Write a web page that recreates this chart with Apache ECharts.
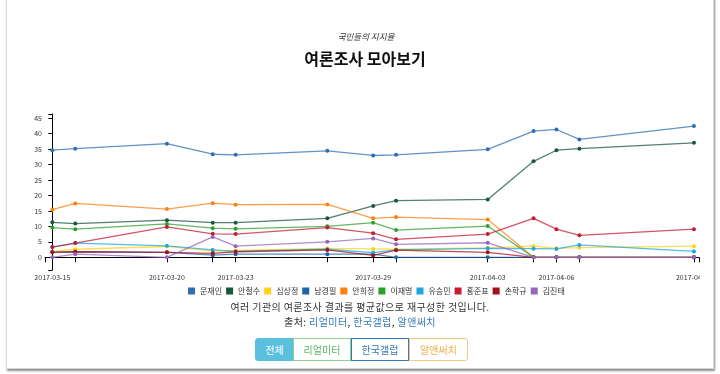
<!DOCTYPE html>
<html>
<head>
<meta charset="utf-8">
<script src="https://cdn.jsdelivr.net/npm/echarts@6/dist/echarts.min.js"></script>
<style>
  html, body { margin:0; padding:0; background:#fff; width:720px; height:374px; overflow:hidden; font-family:"Noto Sans CJK KR","Noto Sans",sans-serif; }
  #frame { position:absolute; left:6px; top:-6px; width:706px; height:373px; border:1px solid #d8d8d8; box-shadow:1px 2px 2px rgba(0,0,0,0.45); background:#fff; }
  #chart { position:absolute; left:0; top:0; width:700px; height:374px; }
  .note { position:absolute; left:0; width:720px; text-align:center; font-size:10px; color:#333; line-height:14px; letter-spacing:0.4px; }
  .note a { color:#337ab7; text-decoration:none; }
  .btn { position:absolute; top:338px; height:21px; line-height:21px; text-align:center; font-size:10px; box-sizing:content-box; border:1px solid; background:#fff; }
</style>
</head>
<body>
<div id="frame"></div>
<div id="chart"></div>
<div class="note" style="top:300px;">여러 기관의 여론조사 결과를 평균값으로 재구성한 것입니다.</div>
<div class="note" style="top:315px;">출처: <a>리얼미터</a>, <a>한국갤럽</a>, <a>알앤써치</a></div>
<div class="btn" style="left:255px;width:37px;background:#5bc0de;border-color:#5bc0de;color:#fff;border-radius:3px 0 0 3px;">전체</div>
<div class="btn" style="left:293px;width:56px;border-color:#8fd18f;color:#5cb85c;">리얼미터</div>
<div class="btn" style="left:351px;width:56px;border-color:#337ab7;color:#337ab7;">한국갤럽</div>
<div class="btn" style="left:409px;width:57px;border-color:#f5c88a;color:#f0ad4e;border-radius:0 3px 3px 0;">알앤써치</div>
<script>
const dates = ['2017-03-15','2017-03-16','2017-03-20','2017-03-22','2017-03-23','2017-03-27','2017-03-29','2017-03-30','2017-04-03','2017-04-05','2017-04-06','2017-04-07','2017-04-12'];
const labelDates = ['2017-03-15','2017-03-20','2017-03-23','2017-03-29','2017-04-03','2017-04-06','2017-04-12'];
const yTicks = [0,5,10,15,20,25,30,35,40,45];

const names = ['문재인','안철수','심상정','남경필','안희정','이재명','유승민','홍준표','손학규','김진태'];
const colors = ['#2f6eb3','#17583a','#ffd21c','#1f64a8','#ff7f0e','#2ca02c','#1ba6df','#c41c34','#a3111f','#9467bd'];

const moon     = [34.6, 35.1, 36.7, 33.3, 33.1, 34.4, 32.9, 33.1, 34.9, 40.8, 41.3, 38.1, 42.4];
const ahnCS    = [11.3, 10.9, 12.0, 11.2, 11.2, 12.6, 16.6, 18.3, 18.7, 31.0, 34.6, 35.1, 37.0];
const sim      = [1.9, 2.6, 3.5, 2.0, 2.2, 2.9, 2.7, 2.6, 3.0, 3.6, 2.9, 3.1, 3.6];
const nam      = [1.7, 1.8, 1.6, 0.7, 1.0, 1.0, 1.0, 0, 0, 0, 0, 0, 0];
const ahnHJ    = [15.4, 17.4, 15.6, 17.5, 17.0, 17.1, 12.6, 13.0, 12.2, 0, 0, 0, 0];
const lee      = [9.6, 9.1, 10.8, 9.4, 9.2, 10.0, 11.2, 8.8, 10.1, 0, 0, 0, 0];
const yoo      = [3.3, 4.6, 3.7, 2.4, 1.9, 2.6, 1.5, 2.4, 2.9, 2.8, 2.7, 4.0, 1.9];
const hong     = [3.3, 4.6, 9.8, 7.6, 7.5, 9.6, 7.8, 5.8, 7.5, 12.6, 9.1, 7.1, 9.1];
const sohn     = [1.6, 1.8, 1.6, 1.3, 1.8, 2.4, 0.6, 2.3, 1.6, 0, 0, 0, 0];
const kim      = [0, 1.0, 0, 6.6, 3.6, 5.0, 6.1, 4.2, 4.7, 0, 0, 0, 0];
const values = [moon, ahnCS, sim, nam, ahnHJ, lee, yoo, hong, sohn, kim];

const DAY = 86400000;
const t0 = Date.UTC(2017, 2, 15);
function dayOf(s){ const p = s.split('-').map(Number); return Math.round((Date.UTC(p[0], p[1]-1, p[2]) - t0) / DAY); }
function fmt(v){ const d = new Date(t0 + Math.round(v)*DAY); const m = d.getUTCMonth()+1, dd = d.getUTCDate(); return d.getUTCFullYear()+'-'+(m<10?'0':'')+m+'-'+(dd<10?'0':'')+dd; }
const xMin = dayOf(dates[0]) - 0.32;
const xMax = dayOf(dates[dates.length-1]) + 0.22;
const yMin = -4.1, yMax = 46.3;

const chart = echarts.init(document.getElementById('chart'), null, {renderer:'canvas'});
const FONT = '"Noto Sans CJK KR","Noto Sans",sans-serif';
chart.setOption({
  animation:false,
  textStyle:{fontFamily:FONT},
  title:[
    {text:'국민들의 지지율', left:361, top:28, textAlign:'center', textStyle:{fontSize:8.5, fontStyle:'italic', fontWeight:'normal', color:'#333', fontFamily:FONT}},
    {text:'여론조사 모아보기', left:360, top:46, textAlign:'center', textStyle:{fontSize:16, fontWeight:'bold', color:'#111', fontFamily:FONT}}
  ],
  legend:{
    data:names, left:183, top:282, icon:'rect', itemWidth:7, itemHeight:7, itemGap:4,
    textStyle:{fontSize:8, color:'#333', fontFamily:FONT}
  },
  grid:{left:45, right:1, top:114, bottom:104, outerBoundsMode:'none', containLabel:false},
  xAxis:{
    type:'value', min:xMin, max:xMax,
    axisLine:{lineStyle:{color:'#000', width:1}},
    axisTick:{show:true, length:5, lineStyle:{color:'#000'}, customValues:[xMin].concat(dates.map(dayOf)).concat([xMax])},
    axisLabel:{customValues:labelDates.map(dayOf), formatter:function(v){return fmt(v);}, fontSize:7, color:'#333', margin:4, hideOverlap:false},
    splitLine:{show:false}
  },
  yAxis:{
    type:'value', min:yMin, max:yMax,
    axisLine:{show:true, lineStyle:{color:'#000', width:1}},
    axisTick:{show:true, length:4, lineStyle:{color:'#000'}, customValues:[yMin].concat(yTicks).concat([yMax])},
    axisLabel:{customValues:yTicks, fontSize:7, color:'#333', margin:3},
    splitLine:{show:false}
  },
  series: names.map(function(n,i){
    return {
      name:n, type:'line', symbol:'circle', symbolSize:4, showSymbol:true,
      itemStyle:{color:colors[i]},
      lineStyle:{color:colors[i], width:1.3, opacity:0.75},
      data: dates.map(function(d,j){ return [dayOf(d), values[i][j]]; })
    };
  })
});
</script>
</body>
</html>
